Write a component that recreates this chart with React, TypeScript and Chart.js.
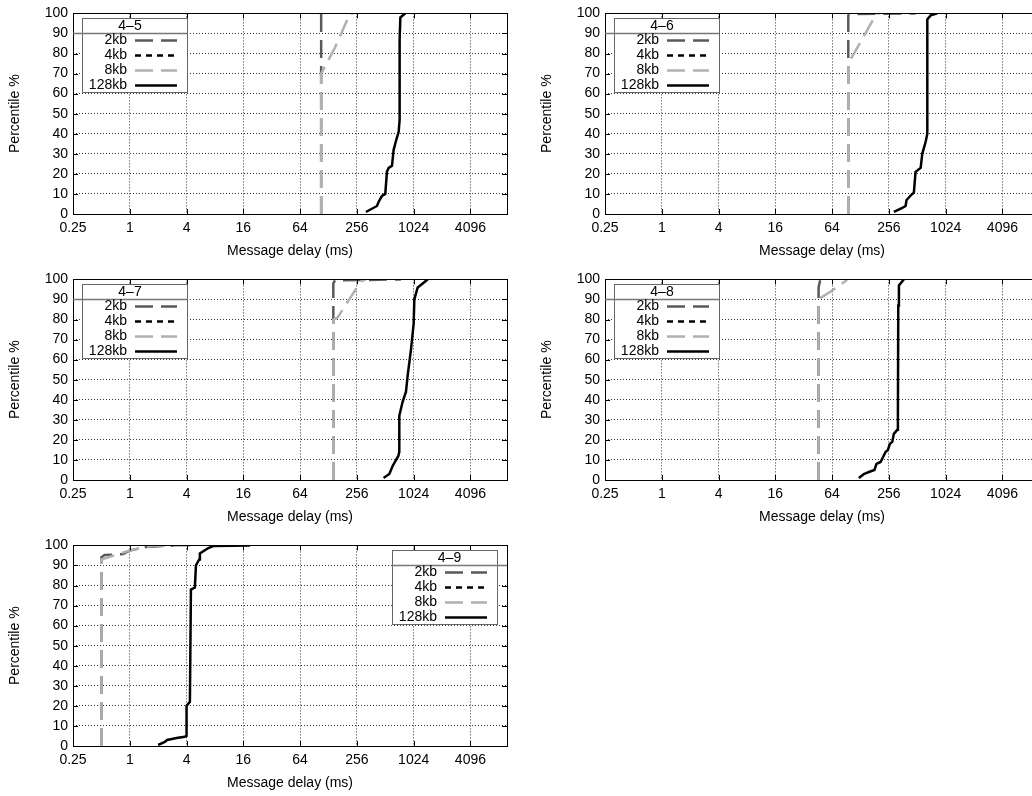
import React, { useEffect, useRef } from "react";
import { Chart, registerables } from "chart.js";

Chart.register(...registerables);

// ---------- shared labels ----------
const seriesLabels = ["2kb", "4kb", "8kb", "128kb"];
const xTickValues = [0.25, 1, 4, 16, 64, 256, 1024, 4096];
const xTickLabels = ["0.25", "1", "4", "16", "64", "256", "1024", "4096"];
const xMin = 0.25;
const xMax = 10000;
const yMin = 0;
const yMax = 100;
const yStep = 10;
const xTitle = "Message delay (ms)";
const yTitle = "Percentile %";
const panelTitles = ["4–5", "4–6", "4–7", "4–8", "4–9"];

// ---------- panel 4–5 ----------
const d45_2kb = [107, 107];
const p45_2kb = [0, 100];
const d45_4kb: number[] = [];
const p45_4kb: number[] = [];
const d45_8kb = [107, 107, 150, 217, 232];
const p45_8kb = [0, 70, 83, 100, 100];
const d45_128kb = [319, 418, 435, 472, 512, 533, 556, 603, 628, 670, 710, 727, 727, 740, 835];
const p45_128kb = [1, 4, 6, 9, 10, 21, 23, 24, 32, 37, 41, 47, 87, 98, 100];

// ---------- panel 4–6 ----------
const d46_2kb = [95, 95, 105, 490];
const p46_2kb = [0, 99, 99.7, 100];
const d46_4kb: number[] = [];
const p46_4kb: number[] = [];
const d46_8kb = [95, 95, 190, 205];
const p46_8kb = [0, 75, 100, 100];
const d46_128kb = [289, 355, 385, 394, 452, 471, 491, 556, 578, 628, 654, 654, 710, 835];
const p46_128kb = [1, 3, 4, 7, 10, 10.5, 21, 23, 30, 36, 40, 97, 99, 100];

// ---------- panel 4–7 ----------
const d47_2kb = [144, 144, 150, 750];
const p47_2kb = [0, 98, 99.5, 100];
const d47_4kb: number[] = [];
const p47_4kb: number[] = [];
const d47_8kb = [144, 144, 160, 282, 320];
const p47_8kb = [0, 80, 81, 99, 100];
const d47_128kb = [491, 565, 613, 704, 721, 721, 782, 849, 884, 959, 1024, 1041, 1129, 1276, 1442];
const p47_128kb = [1, 3, 7, 12, 14, 32, 39, 44, 52, 65, 78, 90, 96, 98, 100];

// ---------- panel 4–8 ----------
const d48_2kb = [46, 46, 48];
const p48_2kb = [0, 96, 100];
const d48_4kb: number[] = [];
const p48_4kb: number[] = [];
const d48_8kb = [46, 46, 49, 62, 88, 92];
const p48_8kb = [0, 89, 91, 94, 99, 100];
const d48_128kb = [123, 139, 157, 180, 189, 209, 236, 250, 262, 278, 289, 314, 319, 322, 327, 369];
const p48_128kb = [1, 3, 4, 5, 8, 9, 14, 15, 18, 19, 23, 25, 31, 87, 97, 100];

// ---------- panel 4–9 ----------
const d49_2kb = [0.5, 0.5, 0.54, 0.85, 1.0, 1.5, 3];
const p49_2kb = [0, 94, 95.2, 95.7, 97.5, 99.2, 100];
const d49_4kb: number[] = [];
const p49_4kb: number[] = [];
const d49_8kb = [0.5, 0.5, 1.0, 1.44, 1.84, 5];
const p49_8kb = [0, 93, 97.5, 99.2, 99.8, 100];
const d49_128kb = [2.0, 2.35, 2.49, 3.13, 3.84, 4.0, 4.0, 4.34, 4.45, 4.9, 5.03, 5.45, 5.54, 6.8, 7.68, 18.8];
const p49_128kb = [0.5, 2, 3, 4, 4.6, 5, 20, 22, 78, 79, 90, 93, 96, 98.7, 99.7, 100];

const panelDelays = [
  [d45_2kb, d45_4kb, d45_8kb, d45_128kb],
  [d46_2kb, d46_4kb, d46_8kb, d46_128kb],
  [d47_2kb, d47_4kb, d47_8kb, d47_128kb],
  [d48_2kb, d48_4kb, d48_8kb, d48_128kb],
  [d49_2kb, d49_4kb, d49_8kb, d49_128kb],
];
const panelPcts = [
  [p45_2kb, p45_4kb, p45_8kb, p45_128kb],
  [p46_2kb, p46_4kb, p46_8kb, p46_128kb],
  [p47_2kb, p47_4kb, p47_8kb, p47_128kb],
  [p48_2kb, p48_4kb, p48_8kb, p48_128kb],
  [p49_2kb, p49_4kb, p49_8kb, p49_128kb],
];

// ---------- styles ----------
const FONT = '"Liberation Sans", Arial, Helvetica, sans-serif';
const seriesColors = ["#5a5a5a", "#000000", "#b0b0b0", "#000000"];
const seriesDashes = [[18, 8], [6, 5], [18, 8], []];
const seriesWidths = [2.5, 2.5, 2.5, 2.5];
const legendSides = ["left", "left", "left", "left", "right"];
const panelLefts = [0, 532, 0, 532, 0];
const panelTops = [0, 0, 266, 266, 532];
const CW = 520;
const CH = 266;

Chart.defaults.font.family = FONT;
Chart.defaults.font.size = 14;
Chart.defaults.color = "#000";

const framePlugin = {
  id: "gframe",
  afterDatasetsDraw(chart: any, _args: any, opts: any) {
    const { ctx, chartArea: a, scales } = chart;
    const px = (v: number) => Math.round(v) + 0.5;
    ctx.save();
    // inward tick marks on all four sides
    ctx.strokeStyle = "#000";
    ctx.lineWidth = 1;
    ctx.setLineDash([]);
    ctx.beginPath();
    scales.x.ticks.forEach((t: any) => {
      const x = px(scales.x.getPixelForValue(t.value));
      ctx.moveTo(x, a.bottom);
      ctx.lineTo(x, a.bottom - 5);
      ctx.moveTo(x, a.top);
      ctx.lineTo(x, a.top + 5);
    });
    scales.y.ticks.forEach((t: any) => {
      const y = px(scales.y.getPixelForValue(t.value));
      ctx.moveTo(a.left, y);
      ctx.lineTo(a.left + 5, y);
      ctx.moveTo(a.right, y);
      ctx.lineTo(a.right - 5, y);
    });
    ctx.stroke();
    // border
    ctx.strokeRect(px(a.left), px(a.top), Math.round(a.right) - Math.round(a.left), Math.round(a.bottom) - Math.round(a.top));

    // key
    const W = 105;
    const H = 74;
    const side = opts.side;
    const bx = side === "left" ? Math.round(a.left) + 9 : Math.round(a.right) - 10 - W;
    const by = Math.round(a.top) + 5;
    ctx.fillStyle = "#fff";
    ctx.fillRect(bx, by, W, H);
    ctx.strokeStyle = "#666";
    ctx.lineWidth = 1;
    ctx.strokeRect(bx + 0.5, by + 0.5, W, H);
    const sy = by + 15.5;
    const sx1 = side === "left" ? a.left : bx;
    const sx2 = side === "left" ? bx + W : a.right;
    ctx.strokeStyle = "#777";
    ctx.lineWidth = 1.5;
    ctx.beginPath();
    ctx.moveTo(sx1, sy);
    ctx.lineTo(sx2, sy);
    ctx.stroke();
    ctx.fillStyle = "#000";
    ctx.font = `14px ${FONT}`;
    ctx.textBaseline = "middle";
    ctx.textAlign = "center";
    ctx.fillText(opts.title, (sx1 + sx2) / 2, by + 8);
    chart.data.datasets.forEach((ds: any, i: number) => {
      const cy = by + 22.5 + 15 * i;
      ctx.fillStyle = "#000";
      ctx.textAlign = "right";
      ctx.fillText(ds.label, bx + 45, cy);
      ctx.strokeStyle = ds.borderColor;
      ctx.lineWidth = ds.borderWidth;
      ctx.setLineDash(ds.borderDash || []);
      ctx.beginPath();
      ctx.moveTo(bx + 53, cy);
      ctx.lineTo(bx + 95, cy);
      ctx.stroke();
      ctx.setLineDash([]);
    });
    ctx.restore();
  },
};

function Panel({ idx }: { idx: number }) {
  const ref = useRef<HTMLCanvasElement | null>(null);
  useEffect(() => {
    if (!ref.current) return;
    const datasets = seriesLabels.map((label, i) => ({
      label,
      data: panelDelays[idx][i].map((x, j) => ({ x, y: panelPcts[idx][i][j] })),
      borderColor: seriesColors[i],
      backgroundColor: seriesColors[i],
      borderDash: seriesDashes[i],
      borderWidth: seriesWidths[i],
      showLine: true,
      pointRadius: 0,
      fill: false,
      tension: 0,
      order: seriesLabels.length - i,
    }));
    const gridCommon = { color: "rgba(0,0,0,0.8)", lineWidth: 1, drawTicks: false };
    const chart = new Chart(ref.current, {
      type: "scatter",
      data: { datasets },
      plugins: [framePlugin],
      options: {
        animation: false,
        responsive: false,
        devicePixelRatio: 1,
        events: [],
        layout: { padding: { left: 0, right: 13, top: 11, bottom: 6 } },
        plugins: {
          legend: { display: false },
          tooltip: { enabled: false },
          gframe: { title: panelTitles[idx], side: legendSides[idx] },
        } as any,
        scales: {
          x: {
            type: "logarithmic",
            min: xMin,
            max: xMax,
            afterBuildTicks: (s: any) => {
              s.ticks = xTickValues.map((v) => ({ value: v }));
            },
            afterFit: (s: any) => {
              s.height = 46;
            },
            ticks: {
              autoSkip: false,
              maxRotation: 0,
              minRotation: 0,
              padding: 6,
              color: "#000",
              font: { size: 14 },
              callback: (_v: any, i: number) => xTickLabels[i],
            },
            grid: gridCommon,
            border: { display: false, dash: [1, 2] },
            title: { display: true, text: xTitle, color: "#000", font: { size: 14 }, padding: { top: 0, bottom: 0 } },
          },
          y: {
            type: "linear",
            min: yMin,
            max: yMax,
            afterFit: (s: any) => {
              s.width = 73;
            },
            ticks: { stepSize: yStep, padding: 5, autoSkip: false, color: "#000", font: { size: 14 } },
            grid: gridCommon,
            border: { display: false, dash: [1, 2] },
            title: { display: true, text: yTitle, color: "#000", font: { size: 14 }, padding: { top: 7, bottom: 0 } },
          },
        },
      } as any,
    });
    return () => chart.destroy();
  }, [idx]);
  return (
    <div style={{ position: "absolute", left: panelLefts[idx], top: panelTops[idx], width: CW, height: CH }}>
      <canvas ref={ref} width={CW} height={CH} style={{ width: CW, height: CH, display: "block" }} />
    </div>
  );
}

export default function App() {
  return (
    <div
      style={{
        position: "fixed",
        left: 0,
        top: 0,
        width: 1032,
        height: 796,
        overflow: "hidden",
        background: "#fff",
      }}
    >
      {panelTitles.map((_, i) => (
        <Panel key={i} idx={i} />
      ))}
    </div>
  );
}
